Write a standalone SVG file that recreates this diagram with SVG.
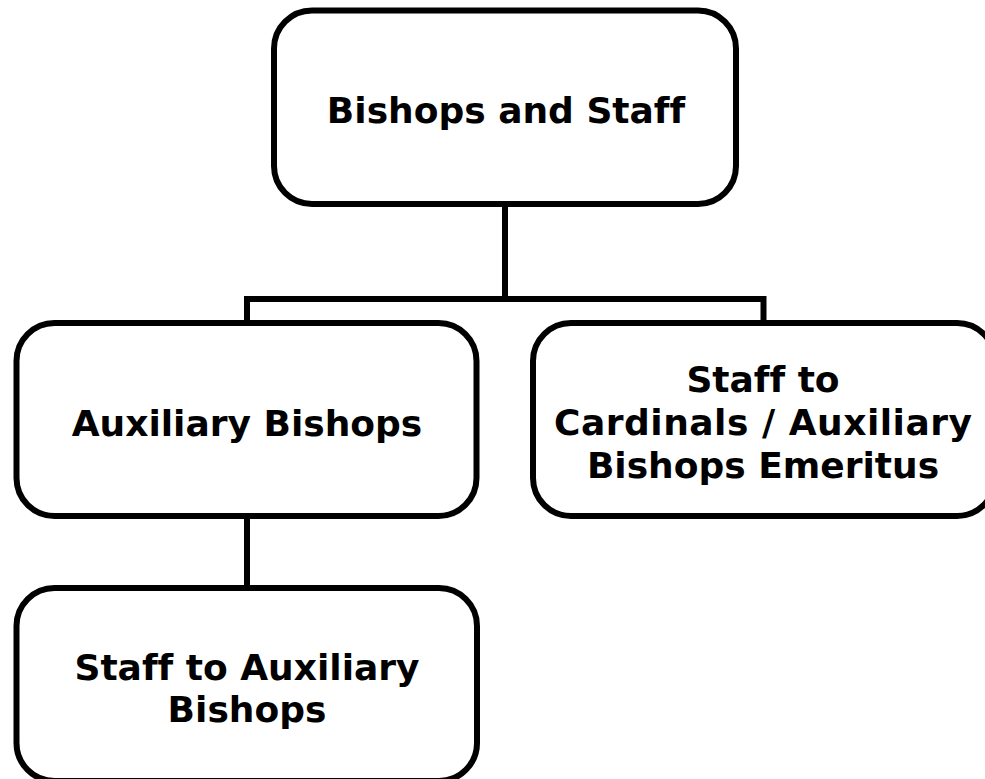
<svg xmlns="http://www.w3.org/2000/svg" width="985" height="779" viewBox="0 0 985 779">
<style>
.box{fill:#fff;stroke:#000;stroke-width:6}
.conn{fill:none;stroke:#000;stroke-width:6;stroke-linejoin:miter}
.t{font-family:"DejaVu Sans",Verdana,sans-serif;font-weight:bold;font-size:36px;text-anchor:middle;fill:#000;font-variant-ligatures:none;font-feature-settings:"liga" 0}
</style>
<rect width="985" height="779" fill="#fff"/>
<g id="connectors">
<path class="conn" d="M247,323 V299 H763.5 V323"/>
<path class="conn" d="M505,204 V299"/>
<path class="conn" d="M247,516 V588"/>
</g>
<g id="n-top">
<rect class="box" x="274" y="10.5" width="462" height="193.5" rx="38"/>
<text class="t" x="506" y="123">Bishops and Staff</text>
</g>
<g id="n-aux">
<rect class="box" x="16.5" y="323" width="460" height="193" rx="38"/>
<text class="t" x="247" y="436">Auxiliary Bishops</text>
</g>
<g id="n-emeritus">
<rect class="box" x="533" y="323" width="462" height="193" rx="38"/>
<text class="t" x="763" y="392">Staff to</text>
<text class="t" x="763" y="435" textLength="418" lengthAdjust="spacing">Cardinals / Auxiliary</text>
<text class="t" x="763" y="478">Bishops Emeritus</text>
</g>
<g id="n-staffaux">
<rect class="box" x="16.5" y="588" width="460.5" height="193" rx="38"/>
<text class="t" x="247" y="680">Staff to Auxiliary</text>
<text class="t" x="247" y="722">Bishops</text>
</g>
</svg>
